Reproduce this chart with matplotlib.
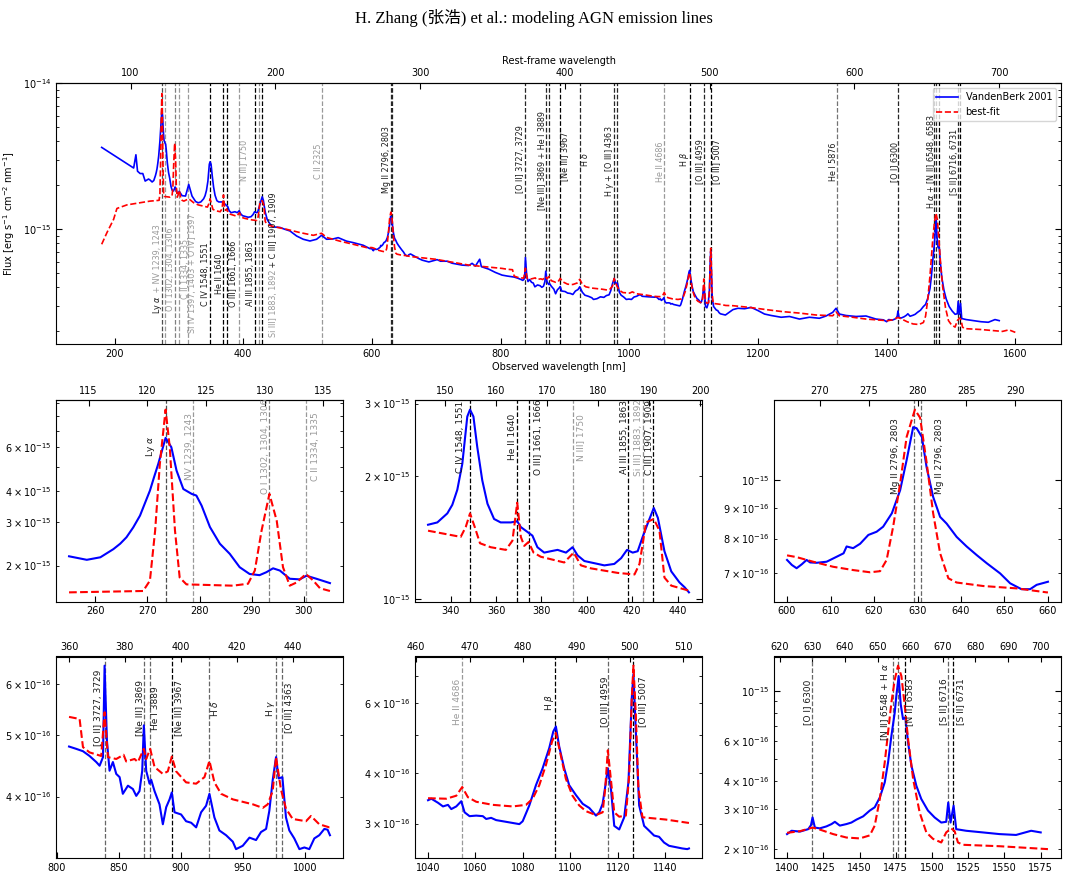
#!/usr/bin/env python3
# Composite AGN spectrum vs. best-fit emission-line model, full range + zooms

import matplotlib

matplotlib.use("Agg")
import matplotlib.pyplot as plt
import numpy as np

ONE_PLUS_Z = 2.25
FLUX_UNIT = 1e-16

# VandenBerk 2001 composite: observed wavelength [nm], flux [1e-16 erg/s/cm2/nm]
vb_wave = [
    180.0, 229.7, 233.2, 235.7, 239.8, 243.9, 247.6, 252.8,
    255.0, 258.4, 261.0, 263.5, 264.8, 266.0, 267.3, 268.6, 269.5, 270.5, 271.3, 272.1,
    272.8, 273.5, 274.6, 275.6, 276.9, 278.5, 279.4, 280.4, 282.0, 283.9, 285.8, 287.7,
    289.6, 291.5, 292.8, 294.1, 295.4, 297.3, 299.2, 300.5, 302.4, 305.0,
    310.3, 315.3, 320.4, 326.0,
    330.0, 334.1, 338.5, 340.7, 342.9, 345.1, 347.3, 348.5, 350.0, 351.7, 353.9, 356.2,
    359.1, 362.0, 366.5, 369.3, 370.9, 373.8, 376.0, 378.2, 381.2, 384.1, 387.1, 390.8,
    393.7, 395.9, 398.9, 401.8, 404.8, 407.7, 412.1, 415.1, 417.7, 420.2, 422.4, 424.6,
    426.8, 429.5, 431.3, 434.2, 437.2, 440.8, 443.1, 445.0,
    457.1, 464.9, 472.6, 483.0, 493.3, 503.7, 514.0, 521.8, 529.5, 539.9, 547.6, 560.6,
    570.9, 586.4, 596.8,
    600.0, 601.1, 602.2, 603.4, 604.5, 605.3, 606.8, 609.1, 611.4, 613.0, 613.7, 615.2,
    616.8, 618.7, 620.6, 622.1, 624.1, 626.0, 627.5, 629.0, 629.8, 631.0, 632.1, 633.6,
    635.2, 636.7, 639.0, 641.3, 643.6, 645.9, 649.0, 651.3, 653.9, 655.9, 657.4, 660.0,
    673.0, 678.2, 688.5, 701.4, 706.6, 716.9, 724.7, 740.2, 750.5, 755.7, 760.8, 767.5,
    770.1, 781.5, 791.8, 802.2,
    810.0, 815.8, 821.2, 826.5, 831.9, 834.6, 837.3, 838.6, 840.5, 842.6, 845.3, 848.0,
    850.7, 853.3, 857.4, 861.4, 864.1, 866.7, 868.9, 870.2, 872.1, 874.8, 876.1, 878.8,
    882.8, 885.5, 888.2, 890.9, 892.7, 894.9, 900.2, 904.2, 908.3, 912.3, 916.3, 920.3,
    923.0, 927.0, 931.0, 936.4, 941.8, 944.4, 949.8, 955.2, 960.5, 964.5, 968.6, 971.2,
    973.9, 976.6, 978.7, 981.7, 984.6, 987.3, 991.3, 995.4, 999.4, 1003.4, 1007.4,
    1011.4, 1015.5, 1018.1, 1020.0,
    1030.0,
    1040.0, 1041.4, 1044.2, 1046.3, 1048.4, 1049.8, 1051.9, 1054.0, 1055.4, 1057.5,
    1060.3, 1063.1, 1064.5, 1066.6, 1068.7, 1072.9, 1078.5, 1079.9, 1082.7, 1085.5,
    1088.3, 1091.1, 1092.8, 1093.9, 1095.3, 1097.4, 1099.5, 1102.4, 1105.2, 1108.0,
    1110.8, 1112.2, 1113.6, 1115.0, 1115.8, 1117.1, 1118.5, 1120.6, 1122.7, 1124.5,
    1125.9, 1126.6, 1127.6, 1129.0, 1131.1, 1133.2, 1135.3, 1137.4, 1139.5, 1141.6,
    1144.4, 1147.2, 1149.3, 1150.0,
    1161.1, 1168.8, 1179.2, 1189.5, 1199.9, 1210.2, 1220.6, 1236.1, 1249.0, 1264.5,
    1280.0, 1295.5, 1305.8, 1316.2, 1321.4, 1326.5, 1336.9, 1352.4, 1367.9, 1383.4, 1395.0,
    1400.0, 1403.1, 1408.9, 1414.6, 1416.5, 1417.6, 1419.2, 1422.6, 1427.2, 1430.7,
    1433.0, 1436.4, 1441.0, 1444.4, 1447.9, 1452.5, 1457.1, 1460.5, 1464.0, 1467.4,
    1469.7, 1472.0, 1474.3, 1475.4, 1477.0, 1478.4, 1480.0, 1481.6, 1483.5, 1485.8,
    1489.2, 1492.6, 1497.2, 1501.8, 1506.4, 1509.8, 1511.2, 1512.8, 1514.9, 1516.7,
    1523.6, 1535.1, 1546.6, 1558.0, 1568.4, 1575.0,
]
vb_flux = [
    36.4, 26.3, 32.4, 25.0, 24.1, 24.1, 21.4, 22.1,
    21.8, 21.1, 21.6, 23.3, 24.5, 26.0, 28.5, 31.8, 35.5, 40.1, 45.5, 51.4,
    58.0, 65.4, 60.0, 48.3, 40.7, 38.9, 38.3, 34.9, 28.6, 24.5, 22.3, 19.7,
    18.5, 18.3, 18.8, 19.5, 19.1, 17.7, 17.6, 18.2, 17.7, 17.0,
    16.9, 20.3, 16.9, 15.5,
    15.2, 15.4, 16.2, 17.0, 18.5, 21.4, 27.9, 29.0, 27.9, 23.5, 19.5, 17.1,
    15.7, 15.4, 15.4, 15.5, 15.0, 14.6, 14.3, 13.4, 13.0, 13.1, 13.2, 13.0,
    13.4, 12.8, 12.4, 12.3, 12.2, 12.1, 12.2, 12.6, 13.2, 13.0, 13.1, 14.2,
    15.3, 16.7, 15.8, 13.1, 11.7, 11.0, 10.7, 10.4,
    10.3, 10.0, 9.75, 9.0, 8.55, 8.32, 8.55, 9.1, 8.55, 8.6, 8.77, 8.3,
    8.11, 7.78, 7.38,
    7.37, 7.23, 7.14, 7.25, 7.37, 7.30, 7.29, 7.32, 7.46, 7.56, 7.76, 7.71,
    7.84, 8.11, 8.21, 8.37, 8.81, 9.62, 10.8, 12.25, 12.2, 11.8, 10.5, 9.38,
    8.69, 8.47, 8.05, 7.76, 7.51, 7.28, 7.0, 6.74, 6.59, 6.59, 6.70, 6.78,
    6.3, 6.15, 5.98, 6.2, 6.05, 6.05, 5.86, 5.69, 5.65, 5.85, 5.6, 6.24,
    5.55, 5.34, 5.07, 4.86,
    4.79, 4.75, 4.71, 4.63, 4.53, 4.47, 4.61, 6.41, 4.89, 4.39, 4.53, 4.34,
    4.29, 4.04, 4.16, 4.11, 4.01, 4.08, 4.39, 5.17, 4.39, 4.19, 4.25, 4.08,
    3.89, 3.62, 3.85, 3.96, 4.06, 3.78, 3.75, 3.66, 3.64, 3.58, 3.78, 3.87,
    4.04, 3.71, 3.54, 3.48, 3.40, 3.31, 3.35, 3.45, 3.42, 3.52, 3.56, 3.80,
    4.24, 4.61, 4.27, 4.29, 3.71, 3.54, 3.44, 3.31, 3.33, 3.31, 3.44,
    3.48, 3.56, 3.55, 3.48,
    3.45,
    3.43, 3.46, 3.38, 3.31, 3.34, 3.26, 3.31, 3.41, 3.20, 3.13,
    3.14, 3.13, 3.08, 3.10, 3.06, 3.03, 2.99, 3.04, 3.33, 3.74,
    4.12, 4.63, 5.09, 5.24, 4.67, 4.12, 3.74, 3.53, 3.36, 3.28,
    3.14, 3.20, 3.36, 3.81, 4.12, 3.67, 2.96, 2.90, 3.11, 3.81,
    6.18, 7.08, 5.09, 3.33, 2.96, 2.88, 2.80, 2.78, 2.69, 2.64,
    2.62, 2.60, 2.59, 2.60,
    2.82, 2.88, 2.86, 2.92, 2.78, 2.63, 2.57, 2.50, 2.53, 2.43,
    2.50, 2.46, 2.55, 2.70, 2.88, 2.63, 2.57, 2.53, 2.55, 2.43, 2.40,
    2.33, 2.41, 2.39, 2.45, 2.55, 2.76, 2.49, 2.47, 2.52, 2.58,
    2.64, 2.54, 2.58, 2.62, 2.70, 2.79, 2.96, 3.06, 3.38, 3.94,
    4.83, 6.33, 8.02, 9.5, 11.6, 8.73, 7.5, 7.62, 5.91, 4.67,
    3.81, 3.33, 2.96, 2.76, 2.62, 2.64, 3.21, 2.62, 3.11, 2.45,
    2.41, 2.37, 2.33, 2.31, 2.41, 2.37,
]

# best-fit model: observed wavelength [nm], flux [1e-16 erg/s/cm2/nm]
fit_wave = [
    180.0, 188.2, 198.5, 203.7, 219.2, 239.9,
    255.0, 269.2, 270.5, 271.5, 272.4, 273.5, 274.3, 275.3, 276.2, 277.5, 286.4, 289.3,
    290.6, 291.9, 293.4, 294.8, 296.0, 297.3, 298.6, 300.4, 301.8, 303.1, 305.0,
    307.7, 315.3, 323.1,
    330.0, 344.4, 346.6, 348.5, 350.6, 352.9, 357.6, 364.3, 367.2, 369.3, 370.9, 372.4,
    374.3, 376.5, 379.7, 390.0, 394.2, 397.4, 401.8, 413.6, 421.0, 423.2, 426.1, 429.5,
    432.0, 434.2, 437.2, 445.0,
    467.5, 488.2, 508.9, 521.8, 529.5, 550.2, 570.9, 591.6,
    600.0, 602.2, 606.0, 610.6, 615.2, 619.1, 621.4, 622.9, 624.4, 626.0, 627.5, 629.4,
    630.6, 632.1, 633.6, 635.2, 637.1, 639.0, 645.1, 652.8, 659.7, 660.0,
    698.9, 750.5, 802.2,
    810.0, 818.5, 821.2, 826.5, 835.9, 838.6, 841.3, 848.0, 853.9, 856.0, 862.7, 865.4,
    870.2, 872.1, 875.3, 878.8, 885.5, 889.5, 892.7, 896.2, 904.2, 912.3, 919.0, 923.0,
    927.0, 932.4, 941.8, 957.9, 965.9, 969.9, 973.9, 976.6, 980.6, 984.6, 990.0, 1000.7,
    1004.7, 1011.4, 1019.5, 1020.0,
    1040.0, 1047.7, 1051.9, 1054.4, 1056.8, 1060.3, 1067.3, 1075.7, 1081.3, 1084.1,
    1086.9, 1089.7, 1092.3, 1093.9, 1095.6, 1098.1, 1100.9, 1103.7, 1106.6, 1110.8,
    1113.6, 1114.7, 1115.8, 1117.2, 1118.5, 1120.6, 1123.4, 1124.8, 1125.9, 1126.6,
    1127.6, 1128.7, 1130.4, 1140.2, 1150.0,
    1161.1, 1187.0, 1212.9, 1238.7, 1264.5, 1290.4, 1316.2, 1321.4, 1326.5, 1347.2,
    1367.9, 1395.0,
    1400.0, 1408.9, 1417.6, 1422.6, 1431.8, 1441.0, 1450.2, 1457.1, 1460.5, 1464.0,
    1467.4, 1469.7, 1472.0, 1474.3, 1476.6, 1478.9, 1481.2, 1483.5, 1487.0, 1491.5,
    1496.1, 1500.7, 1506.4, 1509.8, 1513.3, 1515.6, 1517.9, 1521.3, 1546.6, 1580.0,
    1590.0, 1600.0,
]
fit_flux = [
    7.9, 9.5, 11.7, 13.9, 14.7, 15.2,
    15.6, 15.8, 17.4, 27.7, 51.4, 85.0, 60.0, 27.7, 17.9, 16.8, 16.6, 16.9,
    19.1, 27.7, 38.9, 30.3, 19.7, 16.6, 17.1, 18.5, 17.4, 16.2, 15.8,
    15.6, 16.2, 15.2,
    14.7, 14.2, 15.0, 16.2, 15.0, 13.7, 13.4, 13.2, 13.9, 17.2, 14.2, 13.5,
    13.8, 13.0, 12.7, 12.3, 13.0, 12.1, 11.9, 11.6, 11.5, 12.2, 15.4, 15.7,
    14.7, 11.3, 10.8, 10.5,
    10.0, 9.5, 9.1, 9.4, 8.8, 8.3, 7.9, 7.5,
    7.5, 7.45, 7.32, 7.18, 7.09, 7.03, 7.06, 7.37, 8.37, 9.87, 11.8, 13.1,
    12.7, 10.7, 8.81, 7.56, 6.87, 6.76, 6.67, 6.61, 6.51, 6.51,
    6.24, 5.69, 5.40,
    5.33, 5.29, 4.78, 4.69, 4.63, 5.42, 4.61, 4.58, 4.65, 4.54, 4.58, 4.53,
    4.75, 4.58, 4.75, 4.45, 4.34, 4.38, 4.62, 4.38, 4.21, 4.19, 4.29, 4.55,
    4.21, 4.04, 3.96, 3.89, 3.84, 3.89, 4.08, 4.61, 4.10, 3.83, 3.69, 3.66,
    3.73, 3.62, 3.58, 3.58,
    3.47, 3.46, 3.52, 3.70, 3.49, 3.40, 3.34, 3.31, 3.34, 3.46,
    3.74, 4.20, 4.81, 5.05, 4.54, 3.88, 3.52, 3.33, 3.22, 3.15,
    3.20, 3.67, 4.57, 3.81, 3.20, 3.12, 3.14, 3.96, 6.18, 7.43,
    5.61, 3.67, 3.11, 3.07, 3.01,
    3.0, 2.92, 2.82, 2.73, 2.67, 2.59, 2.56, 2.72, 2.56, 2.50,
    2.43, 2.38,
    2.36, 2.40, 2.49, 2.44, 2.33, 2.25, 2.23, 2.30, 2.54, 3.33,
    4.83, 6.55, 8.88, 11.2, 12.9, 11.6, 8.59, 6.12, 4.07, 2.90,
    2.37, 2.22, 2.14, 2.37, 2.47, 2.40, 2.14, 2.09, 2.06, 2.00,
    2.05, 1.97,
]

# emission lines marked by vertical lines (rest wavelength [nm])
line_rest = [
    121.567, 123.9, 130.4, 133.5, 139.9, 154.9, 164.0, 166.4, 175.0, 185.9, 188.8,
    190.8, 232.5, 279.6, 280.36, 372.7, 386.9, 388.9, 396.7, 410.2, 434.0, 436.3,
    468.6, 486.1, 495.9, 500.7, 587.6, 630.0, 654.8, 656.3, 658.3, 671.6, 673.1,
]

# zoom windows, observed wavelength [nm]
zoom_lo = [255, 330, 600, 810, 1040, 1400]
zoom_hi = [305, 445, 660, 1020, 1150, 1580]

# --- styling / layout -------------------------------------------------------
DARK = "0.1"
GREY = "0.6"
line_colors = [
    "0.3", "0.6", "0.5", "0.6", "0.6", "k", "k", "k", "0.6", "k", "0.55",
    "k", "0.6", "0.4", "0.4", "0.4", "0.4", "0.4", "k", "0.4", "0.4", "0.4",
    "0.6", "k", "0.4", "k", "0.45", "0.4", "0.4", "0.4", "k", "0.4", "k",
]

# full-range panel: (rest nm, text, colour, x offset [pt], y axes-fraction, continuation)
top_labels = [
    (121.567, r"Ly $\alpha$", DARK, -3.0, 0.154, (r" + NV 1239, 1243", GREY)),
    (130.4, "O I 1302, 1304, 1306", GREY, -3.0, 0.288, None),
    (133.5, "C II 1334, 1335", GREY, 4.5, 0.29, None),
    (139.9, "Si IV 1397, 1403 + O IV] 1397", GREY, 3.0, 0.272, None),
    (154.9, "C IV 1548, 1551", DARK, -3.0, 0.27, None),
    (164.0, "He II 1640", DARK, -3.0, 0.27, None),
    (166.4, "O III] 1661, 1666", DARK, 4.5, 0.27, None),
    (175.0, "N III] 1750", GREY, 3.5, 0.706, None),
    (185.9, "Al III 1855, 1863", DARK, -3.0, 0.27, None),
    (190.8, "Si III] 1883, 1892", GREY, 8.0, 0.157, (" + C III] 1907, 1909", DARK)),
    (232.5, "C II 2325", GREY, -3.0, 0.703, None),
    (279.6, "Mg II 2796, 2803", DARK, -3.0, 0.706, None),
    (372.7, "[O II] 3727, 3729", DARK, -3.3, 0.71, None),
    (386.9, "[Ne III] 3869 + He I 3889", DARK, -3.0, 0.706, None),
    (396.7, "[Ne III] 3967", DARK, 3.0, 0.72, None),
    (410.2, r"H $\delta$", DARK, 3.5, 0.71, None),
    (434.0, r"H $\gamma$ + [O III] 4363", DARK, -3.0, 0.70, None),
    (468.6, "He II 4686", GREY, -3.0, 0.70, None),
    (486.1, r"H $\beta$", DARK, -3.5, 0.71, None),
    (495.9, "[O III] 4959", DARK, -3.0, 0.70, None),
    (500.7, "[O III] 5007", DARK, 4.3, 0.70, None),
    (587.6, "He I 5876", DARK, -2.5, 0.70, None),
    (630.0, "[O I] 6300", DARK, -2.5, 0.70, None),
    (656.3, r"H $\alpha$ + [N II] 6548, 6583", DARK, -3.5, 0.70, None),
    (671.6, "[S II] 6716, 6731", DARK, -2.5, 0.70, None),
]

# zoom panels: y axes-fraction of label centres and (rest nm, text, colour, x offset [pt])
zoom_label_y = [0.77, 0.817, 0.726, 0.744, 0.774, 0.774]
zoom_labels = [
    [(121.567, r"Ly $\alpha$", DARK, -11.0), (123.9, "NV 1239, 1243", GREY, -2.4),
     (130.4, "O I 1302, 1304, 1306", GREY, -3.0), (133.5, "C II 1334, 1335", GREY, 7.0)],
    [(154.9, "C IV 1548, 1551", DARK, -6.7), (164.0, "He II 1640", DARK, -2.9),
     (166.4, "O III] 1661, 1666", DARK, 7.0), (175.0, "N III] 1750", GREY, 6.0),
     (185.9, "Al III 1855, 1863", DARK, -3.0), (188.8, "Si III] 1883, 1892", GREY, -3.6),
     (190.8, "C III] 1907, 1909", DARK, -3.0)],
    [(279.6, "Mg II 2796, 2803", DARK, -12.7), (280.36, "Mg II 2796, 2803", DARK, 13.0)],
    [(372.7, "[O II] 3727, 3729", DARK, -4.3), (386.9, "[Ne III] 3869", DARK, -3.6),
     (388.9, "He I 3889", DARK, 3.8), (396.7, "[Ne III] 3967", DARK, 5.0),
     (410.2, r"H $\delta$", DARK, 3.6), (434.0, r"H $\gamma$", DARK, -3.6),
     (436.3, "[O III] 4363", DARK, 4.5)],
    [(468.6, "He II 4686", GREY, -3.0), (486.1, r"H $\beta$", DARK, -4.3),
     (495.9, "[O III] 4959", DARK, -2.6), (500.7, "[O III] 5007", DARK, 6.5)],
    [(630.0, "[O I] 6300", DARK, -3.8), (654.8, r"[N II] 6548 + H $\alpha$", DARK, -6.2),
     (658.3, "[N II] 6583", DARK, 3.8), (671.6, "[S II] 6716", DARK, -3.0),
     (673.1, "[S II] 6731", DARK, 5.5)],
]

FIG_W, FIG_H = 1068, 877


def _frac_rect(x0, y_top, x1, y_bot):
    return [x0 / FIG_W, 1 - y_bot / FIG_H, (x1 - x0) / FIG_W, (y_bot - y_top) / FIG_H]


def _style_axes(ax, fs=7):
    ax.set_yscale("log")
    ax.tick_params(which="both", direction="in", top=False, right=True, labelsize=fs)
    ax.tick_params(which="major", length=4)
    ax.tick_params(which="minor", length=2)
    sec = ax.secondary_xaxis("top", functions=(lambda x: x / ONE_PLUS_Z, lambda x: x * ONE_PLUS_Z))
    sec.tick_params(direction="in", labelsize=fs, length=4)
    return sec


def _draw_lines(ax, lo, hi, darken=False):
    for rest, col in zip(line_rest, line_colors):
        obs = rest * ONE_PLUS_Z
        if lo <= obs <= hi:
            # on the crowded full-range panel the mid-grey lines read as black
            if darken and col == "0.4":
                col = "0.15"
            ax.axvline(obs, color=col, ls="--", lw=0.9, zorder=1)


def _label(ax, rest, text, color, dx, yf, fs):
    return ax.annotate(
        text, xy=(rest * ONE_PLUS_Z, yf), xycoords=("data", "axes fraction"),
        xytext=(dx, 0), textcoords="offset points", rotation=90,
        ha="center", va="center", fontsize=fs, color=color,
    )


def main():
    w_vb = np.array(vb_wave)
    f_vb = np.array(vb_flux) * FLUX_UNIT
    w_fit = np.array(fit_wave)
    f_fit = np.array(fit_flux) * FLUX_UNIT

    fig = plt.figure(figsize=(FIG_W / 100, FIG_H / 100), dpi=100)
    fig.text(0.5, 1 - 18 / FIG_H, "H. Zhang (张浩) et al.: modeling AGN emission lines",
             ha="center", va="center", fontsize=12,
             family=["Liberation Serif", "Noto Sans CJK SC"])

    # full range
    ax = fig.add_axes(_frac_rect(56, 83.3, 1061, 344.3))
    sec = _style_axes(ax)
    _draw_lines(ax, 0, 1e9, darken=True)
    ax.plot(w_vb, f_vb, color="b", lw=1.2, label="VandenBerk 2001")
    ax.plot(w_fit, f_fit, color="r", ls="--", lw=1.2, label="best-fit")
    ax.set_ylim(top=1e-14)
    ax.set_xlabel("Observed wavelength [nm]", fontsize=7, labelpad=2)
    ax.set_ylabel(r"Flux [erg s$^{-1}$ cm$^{-2}$ nm$^{-1}$]", fontsize=7)
    sec.set_xlabel("Rest-frame wavelength", fontsize=7, labelpad=3)
    ax.legend(loc="upper right", fontsize=7, handlelength=2.2)
    for rest, text, col, dx, yf, extra in top_labels:
        t = _label(ax, rest, text, col, dx, yf, 5.8)
        if extra is not None:
            ax.annotate(extra[0], xy=(0.5, 1.0), xycoords=t, rotation=90,
                        ha="center", va="bottom", fontsize=5.8, color=extra[1])

    # zooms
    col_x = [56, 415, 774]
    row_y = [(400.5, 601.5), (656.5, 858.3)]
    for i, (lo, hi) in enumerate(zip(zoom_lo, zoom_hi)):
        x0 = col_x[i % 3]
        yt, yb = row_y[i // 3]
        zax = fig.add_axes(_frac_rect(x0, yt, x0 + 287, yb))
        _style_axes(zax)
        _draw_lines(zax, lo, hi)
        m = (w_vb >= lo) & (w_vb <= hi)
        zax.plot(w_vb[m], f_vb[m], color="b", lw=1.5)
        m = (w_fit >= lo) & (w_fit <= hi)
        zax.plot(w_fit[m], f_fit[m], color="r", ls="--", lw=1.5)
        for rest, text, col, dx in zoom_labels[i]:
            _label(zax, rest, text, col, dx, zoom_label_y[i], 6.5)

    fig.savefig("out.png", dpi=100)
    plt.close(fig)


if __name__ == "__main__":
    main()
